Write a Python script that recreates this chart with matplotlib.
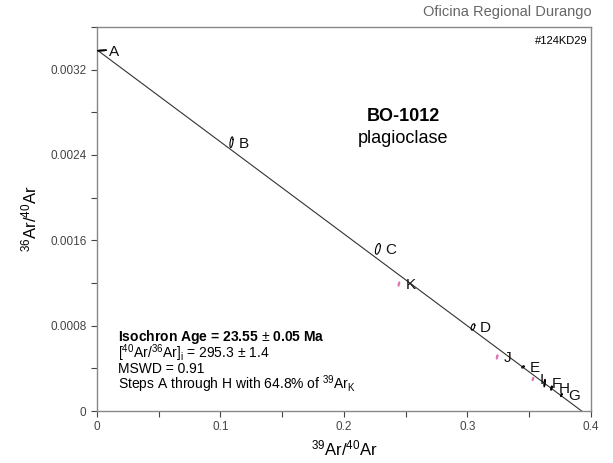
import numpy as np
import matplotlib.pyplot as plt

plt.rcParams["font.family"] = ["Liberation Sans", "DejaVu Sans"]
plt.rcParams["mathtext.fontset"] = "custom"
plt.rcParams["mathtext.rm"] = "Liberation Sans"
plt.rcParams["mathtext.it"] = "Liberation Sans:italic"
plt.rcParams["mathtext.bf"] = "Liberation Sans:bold"

# step data: 39Ar/40Ar, 36Ar/40Ar, ellipse full widths
steps = ["A", "B", "C", "D", "E", "F", "G", "H", "I", "J", "K"]
x39 = [0.004, 0.1090, 0.2275, 0.3045, 0.3450, 0.3625, 0.3760, 0.3680, 0.3530, 0.3240, 0.2445]
y36 = [0.00338, 0.00252, 0.00152, 0.000788, 0.000413, 0.000262, 0.000150, 0.000215, 0.000300, 0.000507, 0.00119]
wx = [0.0070, 0.0025, 0.0040, 0.0030, 0.0020, 0.0012, 0.0012, 0.0012, 0.0012, 0.0012, 0.0012]
wy = [0.000012, 0.00010, 0.00010, 0.00006, 0.000020, 0.00007, 0.00003, 0.00004, 0.00003, 0.00004, 0.00004]
used = [True, True, True, True, True, True, True, True, False, False, False]

intercept = 1 / 295.3
x_intercept = 0.3925

fig = plt.figure(figsize=(6.13, 4.63), dpi=100)
ax = fig.add_axes([0.158, 0.1123, 0.806, 0.8294])

# isochron line
xl = np.array([0, x_intercept])
ax.plot(xl, intercept * (1 - xl / x_intercept), color="#333333", lw=0.8, zorder=2)

t = np.linspace(0, 2 * np.pi, 80)
rho = 0.5
for s, x, y, a, b, u in zip(steps, x39, y36, wx, wy, used):
    c = "black" if u else "#e070b0"
    ex = x + a / 2 * np.cos(t)
    ey = y + b / 2 * (rho * np.cos(t) + np.sqrt(1 - rho**2) * np.sin(t))
    ax.plot(ex, ey, color=c, lw=0.8, zorder=3)
    ax.annotate(s, (x, y), xytext=(5, -1), textcoords="offset points",
                fontsize=11, ha="left", va="center", color="#111111")

ax.set_xlim(0, 0.4)
ax.set_ylim(0, 0.0036)
ax.set_xticks(np.arange(0, 0.401, 0.05))
ax.set_xticklabels(["0", "", "0.1", "", "0.2", "", "0.3", "", "0.4"])
ax.set_yticks(np.arange(0, 0.00361, 0.0004))
ax.set_yticklabels(["0", "", "0.0008", "", "0.0016", "", "0.0024", "", "0.0032", ""])
ax.tick_params(labelsize=8.5, colors="#444444", length=4, width=0.8)
for sp in ax.spines.values():
    sp.set_color("#888888")
    sp.set_linewidth(1.0)

ax.set_xlabel(r"$^{39}$Ar/$^{40}$Ar", fontsize=12, labelpad=4)
ax.set_ylabel(r"$^{36}$Ar/$^{40}$Ar", fontsize=12, labelpad=8)

ax.text(0.62, 0.767, "BO-1012", transform=ax.transAxes, ha="center",
        va="center", fontsize=13, fontweight="bold")
ax.text(0.62, 0.71, "plagioclase", transform=ax.transAxes, ha="center",
        va="center", fontsize=13)

info = [
    (r"Isochron Age = 23.55 $\pm$ 0.05 Ma", "bold"),
    (r"[$^{40}$Ar/$^{36}$Ar]$_{\mathrm{i}}$ = 295.3 $\pm$ 1.4", "normal"),
    ("MSWD = 0.91", "normal"),
    (r"Steps A through H with 64.8% of $^{39}$Ar$_{\mathrm{K}}$", "normal"),
]
for i, (txt, w) in enumerate(info):
    ax.text(0.043, 0.192 - i * 0.041, txt, transform=ax.transAxes,
            fontsize=10, fontweight=w, va="center", ha="left")

ax.text(0.993, 0.977, "#124KD29", transform=ax.transAxes, ha="right",
        va="top", fontsize=8)
fig.text(0.965, 0.975, "Oficina Regional Durango", ha="right", va="center",
         fontsize=10.5, color="#666666")

fig.savefig("out.png", dpi=100)
